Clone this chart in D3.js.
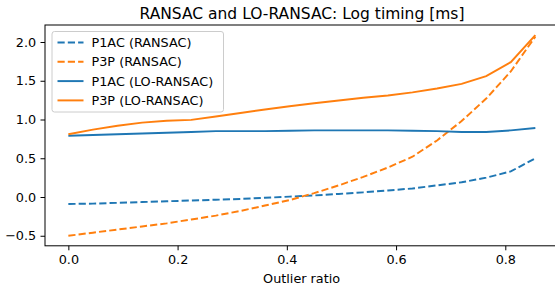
<!DOCTYPE html>
<html>
<head>
<meta charset="utf-8">
<script src="https://cdn.jsdelivr.net/npm/d3@7"></script>
<style>
    body { margin: 0; background: #fff; }
    svg { display: block; font-family: "DejaVu Sans", sans-serif; }
</style>
</head>
<body>
<div id="chart"></div>
<script>
// Outlier ratios (20 steps of 0.045)
const outlierRatios = [0, 0.045, 0.09, 0.135, 0.18, 0.225, 0.27, 0.315, 0.36, 0.405,
    0.45, 0.495, 0.54, 0.585, 0.63, 0.675, 0.72, 0.765, 0.81, 0.855];

// Log timings [ms]
const p1acRansac = [-0.09, -0.085, -0.075, -0.065, -0.055, -0.045, -0.035, -0.025, -0.01, 0.005,
    0.02, 0.04, 0.06, 0.085, 0.11, 0.15, 0.19, 0.25, 0.33, 0.50];
const p3pRansac = [-0.50, -0.46, -0.42, -0.38, -0.34, -0.29, -0.24, -0.18, -0.11, -0.04,
    0.05, 0.15, 0.26, 0.38, 0.52, 0.73, 0.98, 1.27, 1.62, 2.07];
const p1acLo = [0.79, 0.80, 0.81, 0.82, 0.83, 0.84, 0.85, 0.85, 0.85, 0.855,
    0.86, 0.86, 0.86, 0.86, 0.855, 0.85, 0.84, 0.84, 0.86, 0.89];
const p3pLo = [0.81, 0.87, 0.92, 0.96, 0.985, 0.995, 1.04, 1.085, 1.13, 1.17,
    1.21, 1.245, 1.28, 1.31, 1.35, 1.40, 1.46, 1.56, 1.74, 2.09];

const xTicks = [0, 0.2, 0.4, 0.6, 0.8];
const yTicks = [-0.5, 0, 0.5, 1.0, 1.5, 2.0];

const series = [
    { label: 'P1AC (RANSAC)', values: p1acRansac, color: '#1f77b4', dashed: true },
    { label: 'P3P (RANSAC)', values: p3pRansac, color: '#ff7f0e', dashed: true },
    { label: 'P1AC (LO-RANSAC)', values: p1acLo, color: '#1f77b4', dashed: false },
    { label: 'P3P (LO-RANSAC)', values: p3pLo, color: '#ff7f0e', dashed: false }
];

const width = 555, height = 288;
const plot = { left: 45, right: 558.7, top: 25, bottom: 245.8 };
const fontSize = 12.8;

const svg = d3.select('#chart').append('svg')
    .attr('width', width)
    .attr('height', height);

// matplotlib-style 5% margins
const xMin = d3.min(outlierRatios), xMax = d3.max(outlierRatios);
const xPad = (xMax - xMin) * 0.05;
const allY = series.flatMap(s => s.values);
const yMin = d3.min(allY), yMax = d3.max(allY);
const yPad = (yMax - yMin) * 0.05;

const x = d3.scaleLinear()
    .domain([xMin - xPad, xMax + xPad])
    .range([plot.left, plot.right]);
const y = d3.scaleLinear()
    .domain([yMin - yPad, yMax + yPad])
    .range([plot.bottom, plot.top]);

// Lines
const line = d3.line()
    .x((d, i) => x(outlierRatios[i]))
    .y(d => y(d));

series.forEach(s => {
    svg.append('path')
        .datum(s.values)
        .attr('d', line)
        .attr('fill', 'none')
        .attr('stroke', s.color)
        .attr('stroke-width', 1.95)
        .attr('stroke-dasharray', s.dashed ? '7.2,3.1' : null);
});

// Axes
const xAxis = d3.axisBottom(x).tickValues(xTicks).tickFormat(d3.format('.1f')).tickSizeOuter(0).tickSize(4.5).tickPadding(4.3);
const yAxis = d3.axisLeft(y).tickValues(yTicks).tickFormat(d => d3.format('.1f')(d).replace('-', '\u2212')).tickSizeOuter(0).tickSize(4.5).tickPadding(4.3);

const gx = svg.append('g')
    .attr('transform', `translate(0,${plot.bottom})`)
    .call(xAxis);
const gy = svg.append('g')
    .attr('transform', `translate(${plot.left},0)`)
    .call(yAxis);

[gx, gy].forEach(g => {
    g.selectAll('text').attr('font-size', fontSize).attr('fill', '#000').attr('font-family', '"DejaVu Sans", sans-serif');
    g.selectAll('line').attr('stroke', '#000').attr('stroke-width', 1);
    g.select('.domain').remove();
});

// Spines
svg.append('rect')
    .attr('x', plot.left)
    .attr('y', plot.top)
    .attr('width', plot.right - plot.left)
    .attr('height', plot.bottom - plot.top)
    .attr('fill', 'none')
    .attr('stroke', '#000')
    .attr('stroke-width', 1);

// Title and axis label
svg.append('text')
    .attr('x', 302)
    .attr('y', 18.5)
    .attr('text-anchor', 'middle')
    .attr('font-size', 15.5)
    .text('RANSAC and LO-RANSAC: Log timing [ms]');

svg.append('text')
    .attr('x', 301.6)
    .attr('y', 282.5)
    .attr('text-anchor', 'middle')
    .attr('font-size', fontSize)
    .text('Outlier ratio');

// Legend
const legend = svg.append('g').attr('transform', 'translate(52,31.5)');
legend.append('rect')
    .attr('width', 171.5)
    .attr('height', 80.5)
    .attr('rx', 2.5)
    .attr('fill', '#fff')
    .attr('fill-opacity', 0.8)
    .attr('stroke', '#ccc')
    .attr('stroke-width', 1);

series.forEach((s, i) => {
    const row = legend.append('g').attr('transform', `translate(0,${11 + i * 19.3})`);
    row.append('line')
        .attr('x1', 5.5).attr('x2', 31.5)
        .attr('y1', 0).attr('y2', 0)
        .attr('stroke', s.color)
        .attr('stroke-width', 1.95)
        .attr('stroke-dasharray', s.dashed ? '7.2,3.1' : null);
    row.append('text')
        .attr('x', 39.5)
        .attr('y', 4.6)
        .attr('font-size', fontSize)
        .text(s.label);
});
</script>
</body>
</html>
